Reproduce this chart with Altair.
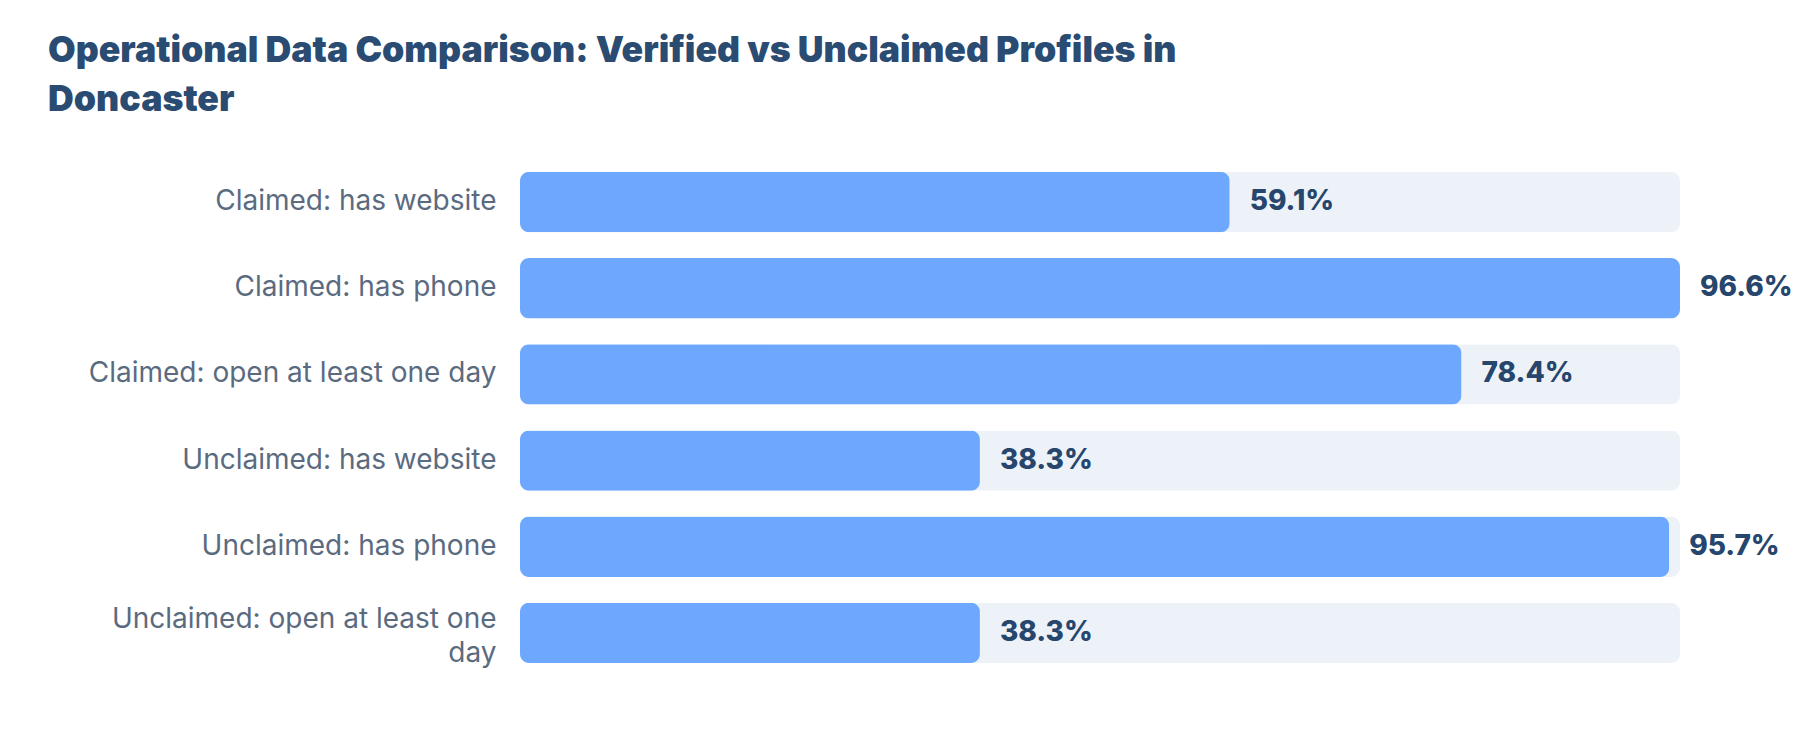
import altair as alt
import pandas as pd

categories = [
    "Claimed: has website",
    "Claimed: has phone",
    "Claimed: open at least one day",
    "Unclaimed: has website",
    "Unclaimed: has phone",
    "Unclaimed: open at least one day",
]
values = [59.1, 96.6, 78.4, 38.3, 95.7, 38.3]

df = pd.DataFrame({"category": categories, "value": values})

TITLE_COLOR = "#2a4b72"
BAR_COLOR = "#6ea8fe"
TRACK_COLOR = "#edf2f9"
LABEL_COLOR = "#5b6b7f"
VALUE_COLOR = "#26466d"

LONG_LABEL = "Unclaimed: open at least one day"

# etiqueta larga en dos líneas, como en la referencia
label_expr = (
    f"datum.label == '{LONG_LABEL}' "
    "? ['Unclaimed: open at least one', 'day'] : datum.label"
)

y_axis = alt.Y(
    "category:N",
    sort=categories,
    title=None,
    scale=alt.Scale(paddingInner=0.3, paddingOuter=0.15),
    axis=alt.Axis(
        labelExpr=label_expr,
        labelFont="Inter",
        labelFontSize=28,
        labelColor=LABEL_COLOR,
        labelPadding=24,
        labelLineHeight=34,
        labelLimit=0,
        labelOffset={"condition": {"test": f"datum.value == '{LONG_LABEL}'", "value": -13}, "value": 0},
        ticks=False,
        domain=False,
        grid=False,
    ),
)

x_scale = alt.Scale(nice=False, zero=True)

base = alt.Chart(df).transform_joinaggregate(track="max(value)")

track = base.mark_bar(color=TRACK_COLOR, cornerRadius=9).encode(
    y=y_axis,
    x=alt.X("track:Q", scale=x_scale, axis=None),
)

bars = base.mark_bar(color=BAR_COLOR, cornerRadius=9).encode(
    y=alt.Y("category:N", sort=categories),
    x=alt.X("value:Q", scale=x_scale, axis=None),
)

labels = base.transform_calculate(
    txt="format(datum.value, '.1f') + '%'"
).mark_text(
    align="left",
    baseline="middle",
    dx=20,
    font="Inter",
    fontSize=28,
    fontWeight=800,
    color=VALUE_COLOR,
).encode(
    y=alt.Y("category:N", sort=categories),
    x=alt.X("value:Q", scale=x_scale, axis=None),
    text="txt:N",
)

chart = alt.layer(track, bars, labels).properties(
    width=1160,
    height=517,
    background="white",
    padding={"left": 512, "top": 151, "right": 112, "bottom": 48},
    autosize=alt.AutoSizeParams(type="none"),
    title=alt.TitleParams(
        ["Operational Data Comparison: Verified vs Unclaimed Profiles in", "Doncaster"],
        anchor="start",
        frame="group",
        dx=-472,
        offset=40,
        font="Inter",
        fontSize=35.7,
        fontWeight=900,
        color=TITLE_COLOR,
        lineHeight=49,
    ),
).configure_view(stroke=None)

chart.save("out.html", embed_options={"renderer": "svg", "actions": False})
